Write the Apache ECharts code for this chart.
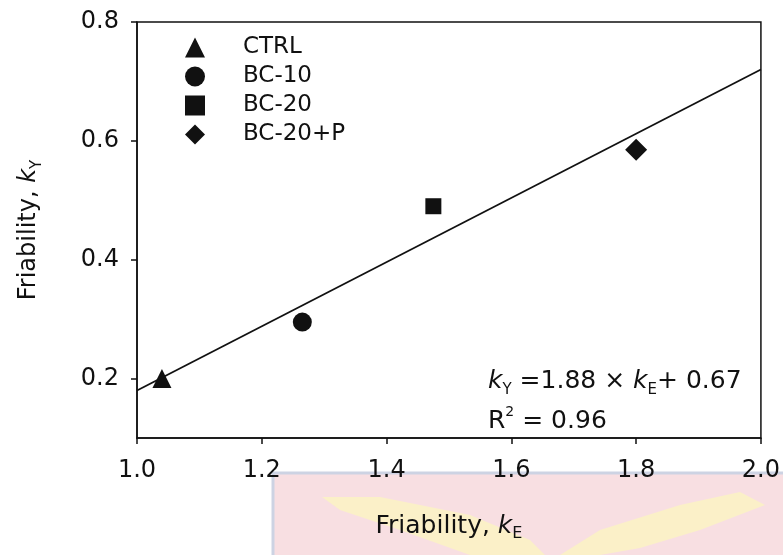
<!DOCTYPE html>
<html>
<head>
<meta charset="utf-8">
<script src="https://cdn.jsdelivr.net/npm/echarts@6/dist/echarts.min.js"></script>
<style>html,body{margin:0;padding:0;background:#fff;}#c{width:783px;height:555px;}</style>
</head>
<body>
<div id="c"></div>
<script>
// Data
const groups = ['CTRL', 'BC-10', 'BC-20', 'BC-20+P'];
const kE = [1.04, 1.265, 1.475, 1.80];
const kY = [0.20, 0.295, 0.49, 0.585];
const symbols = ['triangle', 'circle', 'rect', 'diamond'];
const legendIcons = ['triangle', 'circle', 'rect', 'path://M0,-10L10,0L0,10L-10,0Z'];
const symbolSizes = [19, 19, 16, 22];
const fitLine = [[1.0, 0.18], [2.0, 0.72]];
const yTicks = [0.2, 0.4, 0.6, 0.8];

const FONT = 'DejaVu Sans';
const INK = '#111';
const chart = echarts.init(document.getElementById('c'));

const pointSeries = groups.map((g, i) => ({
  name: g,
  type: 'scatter',
  symbol: symbols[i],
  symbolSize: symbolSizes[i],
  itemStyle: { color: INK, opacity: 1 },
  data: [[kE[i], kY[i]]],
  z: 5
}));

chart.setOption({
  animation: false,
  backgroundColor: '#fff',
  grid: { left: 137, right: 16, top: 22, bottom: 117, show: true, borderColor: INK, borderWidth: 1.5, backgroundColor: 'transparent' },
  legend: {
    data: groups.map((g, i) => ({ name: g, icon: legendIcons[i], itemStyle: { color: INK, opacity: 1 } })),
    orient: 'vertical',
    left: 180, top: 31,
    itemWidth: 20, itemHeight: 20, itemGap: 6,
    textStyle: { fontFamily: FONT, fontSize: 23, color: INK, padding: [0, 0, 0, 33], lineHeight: 18 },
    selectedMode: false
  },
  xAxis: {
    type: 'value', min: 1.0, max: 2.0, interval: 0.2,
    splitLine: { show: false },
    axisLine: { lineStyle: { color: INK, width: 1.5 } },
    axisTick: { show: true, length: 6, lineStyle: { color: INK, width: 1.5 } },
    axisLabel: { fontFamily: FONT, fontSize: 24, color: INK, margin: 21, formatter: v => v.toFixed(1) },
    name: 'Friability, {k|k}{sub|E}',
    nameLocation: 'middle', nameGap: 72,
    nameTextStyle: {
      fontFamily: FONT, fontSize: 25, color: INK, lineHeight: 32,
      rich: {
        k: { fontFamily: FONT, fontSize: 25, fontStyle: 'italic', color: INK, lineHeight: 32 },
        sub: { fontFamily: FONT, fontSize: 16, color: INK, lineHeight: 15, verticalAlign: 'bottom' }
      }
    }
  },
  yAxis: {
    type: 'value', min: 0.1, max: 0.8,
    splitLine: { show: false },
    axisLine: { lineStyle: { color: INK, width: 1.5 } },
    axisTick: { show: true, length: 6, customValues: yTicks, lineStyle: { color: INK, width: 1.5 } },
    axisLabel: { fontFamily: FONT, fontSize: 24, color: INK, margin: 18, customValues: yTicks, formatter: v => v.toFixed(1) },
    name: 'Friability, {k|k}{sub|Y}',
    nameLocation: 'middle', nameGap: 92,
    nameTextStyle: {
      fontFamily: FONT, fontSize: 24, color: INK, lineHeight: 32,
      rich: {
        k: { fontFamily: FONT, fontSize: 24, fontStyle: 'italic', color: INK, lineHeight: 32 },
        sub: { fontFamily: FONT, fontSize: 15, color: INK, lineHeight: 15, verticalAlign: 'bottom' }
      }
    }
  },
  graphic: [
    { type: 'rect', z: -10, silent: true, shape: { x: 273, y: 473, width: 520, height: 90 },
      style: { fill: '#f8dfe2', stroke: '#cdd3e3', lineWidth: 3 } },
    { type: 'polygon', z: -9, silent: true,
      shape: { points: [[322, 497], [380, 497], [470, 515], [530, 540], [545, 555], [470, 555], [400, 530], [340, 510]] },
      style: { fill: '#fbf0c8' } },
    { type: 'polygon', z: -9, silent: true,
      shape: { points: [[740, 492], [765, 505], [700, 530], [640, 548], [600, 555], [560, 555], [600, 530], [680, 505]] },
      style: { fill: '#fbf0c8' } },
    { type: 'text', left: 488, top: 369, z: 10, silent: true,
      style: {
        text: '{k|k}{sub|Y}{n| =1.88 × }{k|k}{sub|E}{n|+ 0.67}',
        fontFamily: FONT, fontSize: 25, fill: INK,
        rich: {
          n: { fontFamily: FONT, fontSize: 25, fill: INK, lineHeight: 32 },
          k: { fontFamily: FONT, fontSize: 25, fontStyle: 'italic', fill: INK, lineHeight: 32 },
          sub: { fontFamily: FONT, fontSize: 15, fill: INK, lineHeight: 14, verticalAlign: 'bottom' }
        }
      } },
    { type: 'text', left: 488, top: 405, z: 10, silent: true,
      style: {
        text: '{n|R}{sup|2}{n| = 0.96}',
        fontFamily: FONT, fontSize: 25, fill: INK,
        rich: {
          n: { fontFamily: FONT, fontSize: 25, fill: INK, lineHeight: 32 },
          sup: { fontFamily: FONT, fontSize: 14, fill: INK, lineHeight: 14, verticalAlign: 'top' }
        }
      } }
  ],
  series: [
    {
      name: 'fit', type: 'line', data: fitLine, symbol: 'none',
      lineStyle: { color: INK, width: 1.8 }, z: 3
    }
  ].concat(pointSeries)
});
</script>
</body>
</html>
